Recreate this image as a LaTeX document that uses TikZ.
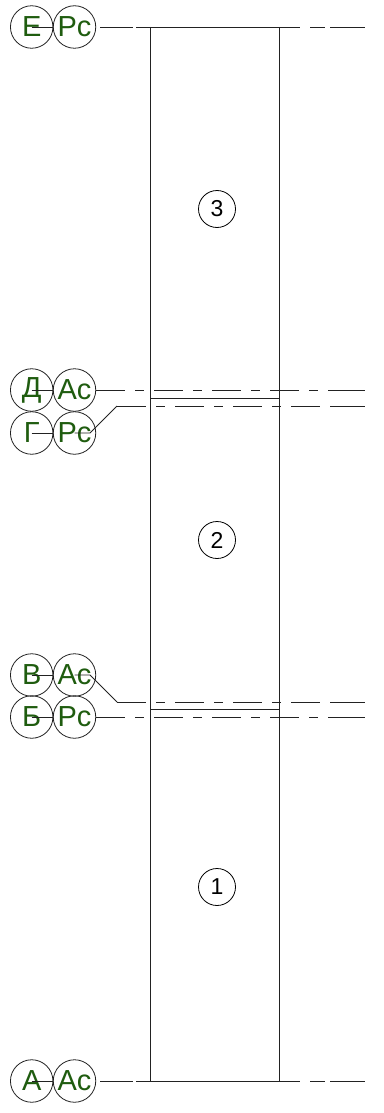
\documentclass[tikz,border=0pt]{standalone}
\usepackage{fontspec}
\setmainfont{Liberation Sans}
\definecolor{markgreen}{HTML}{1F5C0F}
\definecolor{linegray}{HTML}{222222}
\tikzset{
    axismark/.style = {circle, draw = linegray, line width = 0.8pt, minimum size = 42.5pt, inner sep = 0pt,
                       text = markgreen, font = \fontsize{29}{29}\selectfont},
    roomnum/.style = {circle, draw = black, line width = 0.8pt, minimum size = 37pt, inner sep = 0pt,
                      font = \fontsize{23}{23}\selectfont},
    levelline/.style = {linegray, line width = 0.9pt},
    levelaxis/.style = {levelline, dash pattern = on 28.5pt off 10.5pt on 9pt off 10pt},
    levelend/.style = {levelline, dash pattern = on 0pt off 4pt on 33pt off 3pt on 164pt off 10pt on 15pt off 5pt on 40pt},
    wall/.style = {linegray, line width = 1pt}
}
\begin{document}
\begin{tikzpicture}[x = 1pt, y = -1pt]
    \useasboundingbox (0,0) rectangle (383,1113);

    % walls and floors
    \draw [wall] (150.7,27) -- (150.7,1081);
    \draw [wall] (279.7,27) -- (279.7,1081);
    \draw [levelline] (150.7,398.5) -- (279.7,398.5);
    \draw [levelline] (150.7,709.5) -- (279.7,709.5);

    \node [roomnum] (room3) at (217,209) {3};
    \node [roomnum] (room2) at (217,540) {2};
    \node [roomnum] (room1) at (217,887) {1};

    % axis marks
    \node [axismark] (markE) at (31.7,27) {Е};
    \node [axismark] (levelE) at (74.5,27) {Рс};
    \node [axismark] (markD) at (31.7,390) {Д};
    \node [axismark] (levelD) at (74.5,390) {Ас};
    \node [axismark] (markG) at (31.7,433) {Г};
    \node [axismark] (levelG) at (74.5,433) {Рс};
    \node [axismark] (markV) at (31.7,675) {В};
    \node [axismark] (levelV) at (74.5,675) {Ас};
    \node [axismark] (markB) at (31.7,717) {Б};
    \node [axismark] (levelB) at (74.5,717) {Рс};
    \node [axismark] (markA) at (31.7,1081) {А};
    \node [axismark] (levelA) at (74.5,1081) {Ас};

    % short ticks inside the left marks
    \draw [levelline] (markE.center) -- (markE.east);
    \draw [levelline] (markD.center) -- (markD.east);
    \draw [levelline] (markG.center) -- (markG.east);
    \draw [levelline] (markV.center) -- (markV.east);
    \draw [levelline] (markB.center) -- (markB.east);
    \draw [levelline] (markA.center) -- (markA.east);

    \coordinate (endE) at (364.5,27);
    \coordinate (endD) at (364.5,390);
    \coordinate (endG) at (364.5,406);
    \coordinate (endV) at (364.5,702);
    \coordinate (endB) at (364.5,717);
    \coordinate (endA) at (364.5,1081);
    \coordinate (lastD) at (328,390);
    \coordinate (lastG) at (331,406);
    \coordinate (lastV) at (331,702);
    \coordinate (lastB) at (328,717);
    \coordinate (kneeG) at (117,406);
    \coordinate (kneeV) at (117,702);
    \coordinate (bendG) at (90,433);
    \coordinate (bendV) at (90,675);

    % level lines
    \draw [levelend] (levelE.east) -- (endE);
    \draw [levelaxis] (levelD.east) -- (lastD);
    \draw [levelline] (lastD) -- (endD);
    \draw [levelline] (levelG.center) -- (bendG) -- (kneeG);
    \draw [levelaxis] (kneeG) -- (lastG);
    \draw [levelline] (lastG) -- (endG);
    \draw [levelline] (levelV.center) -- (bendV) -- (kneeV);
    \draw [levelaxis] (kneeV) -- (lastV);
    \draw [levelline] (lastV) -- (endV);
    \draw [levelaxis] (levelB.east) -- (lastB);
    \draw [levelline] (lastB) -- (endB);
    \draw [levelend] (levelA.east) -- (endA);
\end{tikzpicture}
\end{document}
